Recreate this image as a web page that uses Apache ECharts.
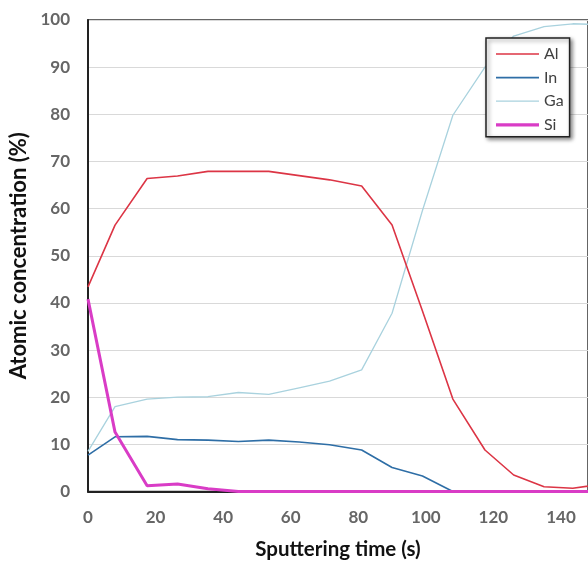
<!DOCTYPE html>
<html>
<head>
<meta charset="utf-8">
<script src="https://cdn.jsdelivr.net/npm/echarts@6/dist/echarts.min.js"></script>
<style>html,body{margin:0;padding:0;background:#fff;}#c{width:588px;height:561px;}</style>
</head>
<body>
<div id="c"></div>
<script>
// Sputtering time (s)
const times = [0, 8, 17.5, 26.5, 35.5, 44.5, 53.5, 62.5, 71.5, 81, 90, 99, 108, 117.5, 126, 135, 143.5, 152.5];
const alValues = [43.4, 56.5, 66.4, 66.9, 67.9, 67.9, 67.9, 67.0, 66.1, 64.8, 56.5, 38.3, 19.6, 8.8, 3.5, 1.0, 0.7, 1.6];
const inValues = [7.7, 11.6, 11.7, 11.0, 10.9, 10.6, 10.9, 10.5, 9.9, 8.8, 5.1, 3.3, 0, 0, 0, 0, 0, 0];
const gaValues = [8.5, 18.0, 19.6, 20.0, 20.1, 21.0, 20.6, 22.0, 23.4, 25.8, 37.8, 59.6, 79.8, 90.0, 96.6, 98.6, 99.2, 99.0];
const siValues = [40.8, 12.6, 1.2, 1.6, 0.6, 0, 0, 0, 0, 0, 0, 0, 0, 0, 0, 0, 0, 0];
const xTicks = [0, 20, 40, 60, 80, 100, 120, 140];
const seriesNames = ['Al', 'In', 'Ga', 'Si'];

const pair = vals => times.map((t, i) => [t, vals[i]]);
const font = 'Lato, "Open Sans", sans-serif';
const thin = 'path://M0,0h40v1.6h-40z';
const thick = 'path://M0,0h40v3h-40z';

const chart = echarts.init(document.getElementById('c'));
chart.setOption({
  animation: false,
  grid: { left: 88, top: 20, right: 0, bottom: 69.5, containLabel: false, outerBoundsMode: 'none',
    show: true, borderColor: '#333', borderWidth: 1.5, backgroundColor: 'transparent' },
  legend: {
    data: [
      { name: 'Al', icon: thin },
      { name: 'In', icon: thin },
      { name: 'Ga', icon: 'path://M0,0h40v1.2h-40z' },
      { name: 'Si', icon: thick }
    ],
    orient: 'vertical',
    left: 486, top: 38,
    padding: [8, 6, 4, 10],
    itemWidth: 43, itemHeight: 14, itemGap: 7.6,
    backgroundColor: '#fff',
    borderColor: '#222', borderWidth: 1.5,
    shadowColor: 'rgba(0,0,0,0.45)', shadowBlur: 4, shadowOffsetX: 2, shadowOffsetY: 2,
    textStyle: { fontFamily: font, fontSize: 16, lineHeight: 14, color: '#404040' }
  },
  xAxis: {
    type: 'value', min: 0, max: 148, interval: 20,
    name: 'Sputtering time (s)', nameLocation: 'middle', nameGap: 47,
    nameTextStyle: { fontFamily: font, fontSize: 20.5, fontWeight: 'bold', color: '#111' },
    axisLine: { show: true, lineStyle: { color: '#222', width: 2 } },
    axisTick: { show: false },
    splitLine: { show: false },
    axisLabel: { showMaxLabel: false, margin: 18, fontFamily: font, fontSize: 17, fontWeight: 'bold', color: '#666',
      formatter: v => xTicks.includes(v) ? String(v) : '' }
  },
  yAxis: {
    type: 'value', min: 0, max: 100, interval: 10,
    name: 'Atomic concentration (%)', nameLocation: 'middle', nameGap: 53,
    nameTextStyle: { fontFamily: font, fontSize: 22, fontWeight: 'bold', color: '#111' },
    axisLine: { show: true, lineStyle: { color: '#222', width: 2 } },
    axisTick: { show: false },
    splitLine: { show: true, lineStyle: { color: '#d9d9d9', width: 1.2 } },
    axisLabel: { margin: 18, fontFamily: font, fontSize: 17, fontWeight: 'bold', color: '#666' }
  },
  series: [
    { name: 'Al', type: 'line', data: pair(alValues), symbol: 'none', color: '#DC3545', lineStyle: { width: 1.6, color: '#DC3545' }, z: 3 },
    { name: 'In', type: 'line', data: pair(inValues), symbol: 'none', color: '#2E6EA6', lineStyle: { width: 1.6, color: '#2E6EA6' }, z: 3 },
    { name: 'Ga', type: 'line', data: pair(gaValues), symbol: 'none', color: '#A9D2DE', lineStyle: { width: 1.3, color: '#A9D2DE' }, z: 2 },
    { name: 'Si', type: 'line', data: pair(siValues), symbol: 'none', color: '#D93CC6', lineStyle: { width: 3, color: '#D93CC6' }, z: 4 }
  ]
});
</script>
</body>
</html>
